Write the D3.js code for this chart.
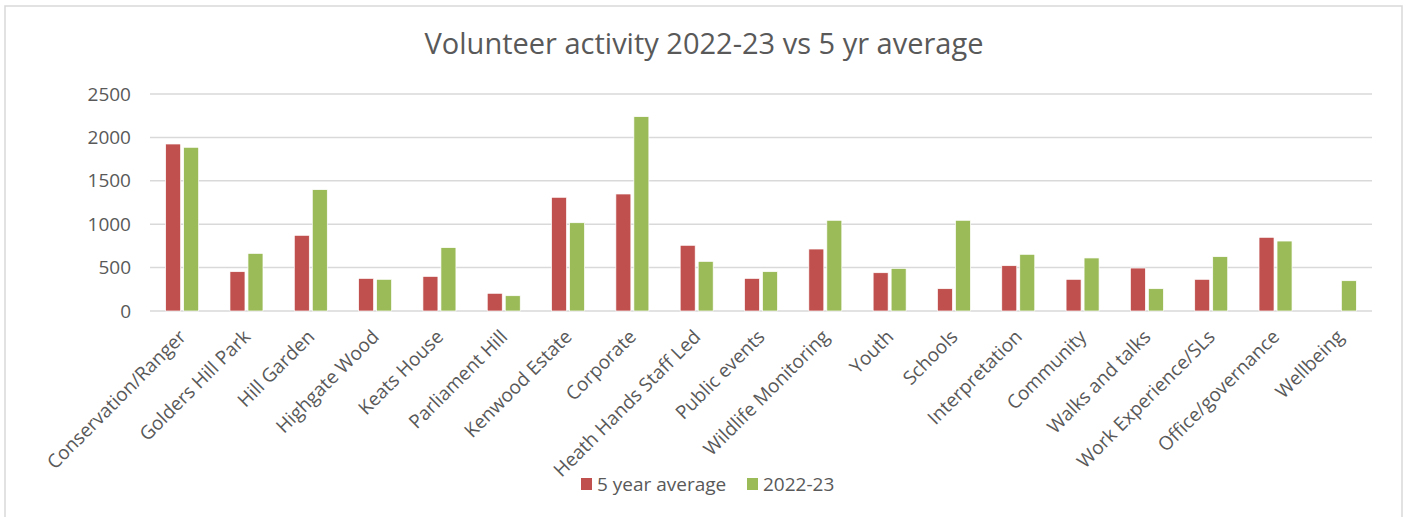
<!DOCTYPE html>
<html>
<head>
<meta charset="utf-8">
<script src="https://cdn.jsdelivr.net/npm/d3@7"></script>
<style>
  body { margin: 0; background: #fff; }
  text { font-family: "Open Sans", sans-serif; fill: #595959; }
</style>
</head>
<body>
<script>
// data
const categories = ['Conservation/Ranger', 'Golders Hill Park', 'Hill Garden', 'Highgate Wood',
  'Keats House', 'Parliament Hill', 'Kenwood Estate', 'Corporate', 'Heath Hands Staff Led',
  'Public events', 'Wildlife Monitoring', 'Youth', 'Schools', 'Interpretation', 'Community',
  'Walks and talks', 'Work Experience/SLs', 'Office/governance', 'Wellbeing'];
const avg5yr = [1924, 453, 872, 376, 399, 204, 1310, 1348, 757, 376, 714, 441, 257, 522, 365, 495, 365, 849, 0];
const y2223 = [1886, 664, 1398, 365, 730, 176, 1017, 2239, 572, 453, 1045, 491, 1045, 653, 611, 257, 626, 806, 349];
const yTicks = [0, 500, 1000, 1500, 2000, 2500];
const seriesNames = ['5 year average', '2022-23'];
const colors = ['#C0504D', '#9BBB59'];

const W = 1407, H = 517;
const plotL = 150, plotR = 1372, plotT = 94, plotB = 311;

const svg = d3.select('body').append('svg')
    .attr('width', W)
    .attr('height', H);

// chart frame
svg.append('rect')
    .attr('x', 5).attr('y', 6)
    .attr('width', 1397).attr('height', 530)
    .attr('fill', 'none')
    .attr('stroke', '#d9d9d9')
    .attr('stroke-width', 1.5);

let x = d3.scaleBand().domain(categories).range([plotL, plotR]);
let y = d3.scaleLinear().domain([0, 2500]).range([plotB, plotT]);

// gridlines
svg.append('g').selectAll('line')
    .data(yTicks)
    .join('line')
    .attr('x1', plotL).attr('x2', plotR)
    .attr('y1', d => y(d)).attr('y2', d => y(d))
    .attr('stroke', '#d9d9d9')
    .attr('stroke-width', 1.5);

// y axis labels
let yAxis = svg.append('g')
    .attr('transform', `translate(${plotL - 19},0)`)
    .call(d3.axisLeft(y).tickValues(yTicks).tickFormat(d3.format('d')).tickSize(0).tickPadding(0));
yAxis.select('.domain').remove();
yAxis.selectAll('text')
    .attr('font-size', 19)
    .attr('font-family', '"Open Sans", sans-serif')
    .attr('fill', '#595959');

// bars
const barW = 15, gap = 1.5;
const series = [avg5yr, y2223];
series.forEach((vals, s) => {
  svg.append('g').selectAll('rect')
      .data(vals)
      .join('rect')
      .attr('x', (d, i) => {
        let c = x(categories[i]) + x.bandwidth() / 2;
        return s === 0 ? c - gap - barW : c + gap;
      })
      .attr('y', d => y(d))
      .attr('width', barW)
      .attr('height', d => plotB - y(d))
      .attr('fill', colors[s])
      .attr('stroke', d => d > 0 ? '#fff' : 'none')
      .attr('stroke-width', 0.7);
});

// x axis labels, rotated
let xAxis = svg.append('g')
    .attr('transform', `translate(0,${plotB})`)
    .call(d3.axisBottom(x).tickSize(0).tickPadding(0));
xAxis.select('.domain').remove();
xAxis.selectAll('text')
    .attr('font-size', 19)
    .attr('font-family', '"Open Sans", sans-serif')
    .attr('fill', '#595959')
    .attr('text-anchor', 'end')
    .attr('dy', 0)
    .attr('transform', 'translate(5,27) rotate(-45)');

// title
svg.append('text')
    .attr('x', 704).attr('y', 54)
    .attr('text-anchor', 'middle')
    .attr('font-size', 29)
    .text('Volunteer activity 2022-23 vs 5 yr average');

// legend
const legendX = [581, 747];
let legend = svg.append('g');
seriesNames.forEach((name, i) => {
  legend.append('rect')
      .attr('x', legendX[i]).attr('y', 478)
      .attr('width', 11).attr('height', 12)
      .attr('fill', colors[i]);
  legend.append('text')
      .attr('x', legendX[i] + 16).attr('y', 491)
      .attr('font-size', 19)
      .text(name);
});
</script>
</body>
</html>
